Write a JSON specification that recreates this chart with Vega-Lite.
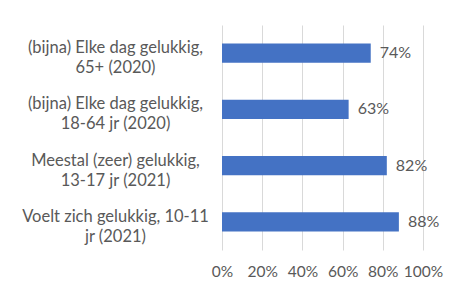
{
  "$schema": "https://vega.github.io/schema/vega-lite/v6.json",
  "width": 201,
  "height": 225,
  "autosize": {"type": "none"},
  "padding": {"left": 222, "top": 25, "right": 27, "bottom": 44},
  "background": "white",
  "data": {"values": [
    {"cat": "(bijna) Elke dag gelukkig,|65+ (2020)", "value": 0.74},
    {"cat": "(bijna) Elke dag gelukkig,|18-64 jr (2020)", "value": 0.63},
    {"cat": "Meestal (zeer) gelukkig,|13-17 jr (2021)", "value": 0.82},
    {"cat": "Voelt zich gelukkig, 10-11|jr (2021)", "value": 0.88}
  ]},
  "config": {
    "view": {"stroke": null},
    "font": "Lato",
    "axis": {"labelFont": "Lato", "labelColor": "#595959", "labelFontSize": 16.5}
  },
  "encoding": {
    "y": {
      "field": "cat", "type": "nominal", "sort": null, "title": null,
      "scale": {"paddingInner": 0.66, "paddingOuter": 0.33},
      "axis": {
        "domain": false, "ticks": false, "labelAlign": "center", "labelPadding": 107,
        "labelExpr": "split(datum.label, '|')", "labelLineHeight": 20, "labelLimit": 300,
        "labelOffset": -5
      }
    },
    "x": {
      "field": "value", "type": "quantitative", "title": null,
      "scale": {"domain": [0, 1]},
      "axis": {
        "format": ".0%", "values": [0, 0.2, 0.4, 0.6, 0.8, 1], "domain": false, "ticks": false,
        "grid": true, "gridColor": "#d9d9d9", "labelPadding": 14, "labelFontSize": 15.5,
        "labelOverlap": false, "labelFlush": false
      }
    }
  },
  "layer": [
    {"mark": {"type": "bar", "color": "#4472c4"}},
    {"mark": {"type": "text", "align": "left", "dx": 9, "fontSize": 16, "color": "#595959", "font": "Lato"},
     "encoding": {"text": {"field": "value", "format": ".0%"}}}
  ]
}
